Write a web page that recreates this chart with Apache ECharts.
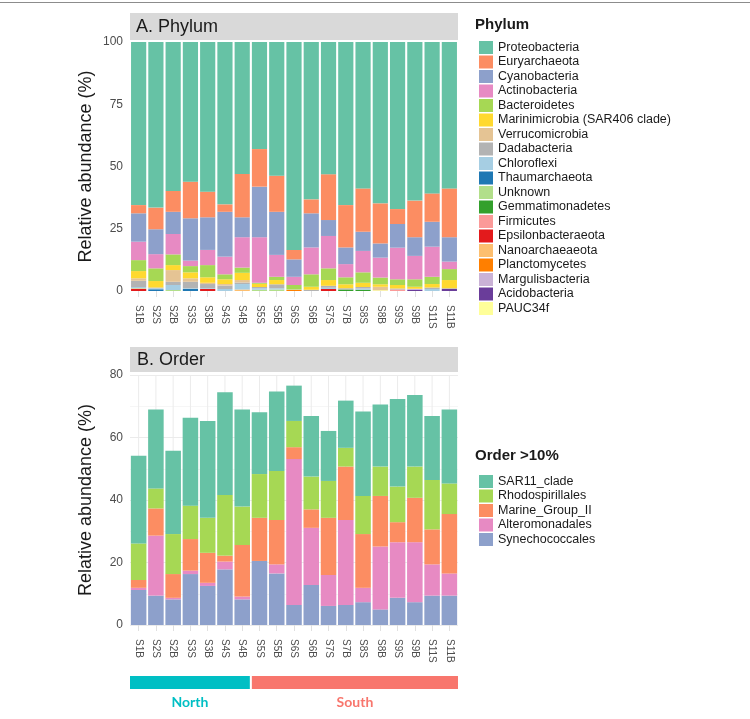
<!DOCTYPE html>
<html><head><meta charset="utf-8">
<script src="https://cdn.jsdelivr.net/npm/echarts@6/dist/echarts.min.js"></script>
<style>html,body{margin:0;padding:0;background:#fff}#c{width:750px;height:719px}</style>
</head><body><div id="c"></div>
<script>
// ---------- categories ----------
const samples = ['S1B','S2S','S2B','S3S','S3B','S4S','S4B','S5S','S5B','S6S','S6B','S7S','S7B','S8S','S8B','S9S','S9B','S11S','S11B'];
const sampleRegion = ['North','North','North','North','North','North','North','South','South','South','South','South','South','South','South','South','South','South','South'];
const regionNames = ['North','South'];
const regionColors = ['#00BFC4','#F8766D'];

// ---------- Panel A: Phylum (% relative abundance) ----------
const phylumNames = ['Proteobacteria','Euryarchaeota','Cyanobacteria','Actinobacteria','Bacteroidetes','Marinimicrobia (SAR406 clade)','Verrucomicrobia','Dadabacteria','Chloroflexi','Thaumarchaeota','Unknown','Gemmatimonadetes','Firmicutes','Epsilonbacteraeota','Nanoarchaeaeota','Planctomycetes','Margulisbacteria','Acidobacteria','PAUC34f'];
const phylumColors = ['#66C2A5','#FC8D62','#8DA0CB','#E78AC3','#A6D854','#FFD92F','#E5C494','#B3B3B3','#A6CEE3','#1F78B4','#B2DF8A','#33A02C','#FB9A99','#E31A1C','#FDBF6F','#FF7F00','#CAB2D6','#6A3D9A','#FFFF99'];
const proteobacteria     = [65.5,66.5,59.8,56.1,60.1,65.2,53.0,43.0,53.7,83.5,63.2,53.1,65.5,58.8,64.8,67.1,63.7,60.8,58.8];
const euryarchaeota      = [3.3,8.7,8.4,14.7,10.3,3.0,17.4,15.1,14.5,3.8,5.6,18.4,17.0,17.4,16.1,6.0,14.7,11.4,19.6];
const cyanobacteria      = [11.4,10.0,8.9,17.0,13.1,18.0,8.0,20.3,17.3,7.0,13.7,6.4,6.7,7.7,5.7,9.5,7.5,10.0,9.8];
const actinobacteria     = [7.4,5.7,8.2,2.2,6.1,7.1,12.2,18.3,8.8,3.3,10.8,13.0,5.3,8.6,8.0,12.7,9.4,12.1,3.0];
const bacteroidetes      = [4.4,5.1,4.3,2.5,4.9,2.0,2.1,0.4,1.3,1.7,5.0,4.7,2.8,4.2,2.7,2.3,3.0,2.9,4.4];
const marinimicrobia     = [2.9,2.6,2.0,2.4,2.2,1.9,2.9,1.3,1.7,0,1.2,2.3,1.6,1.7,1.0,1.4,0.8,1.4,3.3];
const verrucomicrobia    = [1.0,0,4.7,1.4,0.5,0.6,1.0,0,0,0,0,0,0,0,1.4,0,0,0,0];
const dadabacteria       = [2.5,0.3,1.3,2.6,1.7,1.4,0.6,0.5,1.6,0,0.5,0.8,0.5,0.6,0,0.4,0,0.6,0.3];
const chloroflexi        = [0.4,0.4,2.0,0.3,0.3,0.8,2.2,0.6,0.5,0,0,0.5,0,0.5,0,0,0,0.8,0];
const thaumarchaeota     = [0,0.7,0,0.8,0,0,0,0,0,0,0,0,0,0,0,0,0,0,0];
const unknown            = [0.2,0,0.4,0,0,0,0,0.5,0.6,0.2,0,0,0,0,0,0,0,0,0];
const gemmatimonadetes   = [0,0,0,0,0,0,0,0,0,0,0,0,0.6,0.5,0,0,0,0,0];
const firmicutes         = [0.2,0,0,0,0,0,0,0,0,0,0,0,0,0,0,0.6,0,0,0];
const epsilonbacteraeota = [0.8,0,0,0,0.8,0,0,0,0,0,0,0.8,0,0,0,0,0,0,0];
const nanoarchaeaeota    = [0,0,0,0,0,0,0.6,0,0,0,0,0,0,0,0,0,0,0,0];
const planctomycetes     = [0,0,0,0,0,0,0,0,0,0.5,0,0,0,0,0,0,0,0,0];
const margulisbacteria   = [0,0,0,0,0,0,0,0,0,0,0,0,0,0,0,0,0.5,0,0];
const acidobacteria      = [0,0,0,0,0,0,0,0,0,0,0,0,0,0,0,0,0.4,0,0.8];
const pauc34f            = [0,0,0,0,0,0,0,0,0,0,0,0,0,0,0.3,0,0,0,0];
const phylumValues = [proteobacteria,euryarchaeota,cyanobacteria,actinobacteria,bacteroidetes,marinimicrobia,verrucomicrobia,dadabacteria,chloroflexi,thaumarchaeota,unknown,gemmatimonadetes,firmicutes,epsilonbacteraeota,nanoarchaeaeota,planctomycetes,margulisbacteria,acidobacteria,pauc34f];

// ---------- Panel B: Order >10% ----------
const orderNames = ['SAR11_clade','Rhodospirillales','Marine_Group_II','Alteromonadales','Synechococcales'];
const orderColors = ['#66C2A5','#A6D854','#FC8D62','#E78AC3','#8DA0CB'];
const sar11Clade       = [28.1,25.3,26.7,28.1,31.0,32.9,31.1,19.8,25.4,11.3,19.4,16.0,15.1,27.0,19.9,28.0,22.9,20.5,23.7];
const rhodospirillales = [11.7,6.4,12.8,10.7,11.2,19.4,12.3,14.0,15.7,8.4,10.5,11.8,6.0,12.2,9.4,11.4,10.0,15.8,9.8];
const marineGroupII    = [2.5,8.7,7.6,10.1,9.6,1.9,16.5,13.8,14.2,3.8,5.9,18.3,17.1,17.2,16.2,6.4,14.2,11.2,19.0];
const alteromonadales  = [0.7,19.2,0.5,1.1,1.0,2.5,0.9,0,2.9,46.7,18.3,9.9,27.2,4.6,20.1,17.8,19.2,10.0,7.1];
const synechococcales  = [11.2,9.4,8.2,16.3,12.5,17.8,8.2,20.5,16.5,6.4,12.8,6.1,6.4,7.3,5.0,8.7,7.3,9.4,9.4];
const orderValues = [sar11Clade,rhodospirillales,marineGroupII,alteromonadales,synechococcales];

// ---------- axes ticks ----------
const yTicksA = {min:0, max:100, interval:25};
const yTicksB = {min:0, max:80, interval:20};

const FONT = 'Liberation Sans, Arial, sans-serif';
const chart = echarts.init(document.getElementById('c'), null, {renderer:'canvas'});

const gridL = 130, gridR = 292;
const series = [];
// ggplot stacks first level on top -> add in reverse
for (let i = phylumNames.length - 1; i >= 0; i--) {
  series.push({type:'bar', name:phylumNames[i], stack:'A', xAxisIndex:0, yAxisIndex:0,
    data:phylumValues[i], barCategoryGap:'12%', itemStyle:{color:phylumColors[i]}, z:2});
}
for (let i = orderNames.length - 1; i >= 0; i--) {
  series.push({type:'bar', name:orderNames[i], stack:'B', xAxisIndex:1, yAxisIndex:1,
    data:orderValues[i], barCategoryGap:'10%', itemStyle:{color:orderColors[i]}, z:2});
}
// vertical major grid lines at category centres (panel B)
series.push({type:'custom', xAxisIndex:1, yAxisIndex:1, z:1, silent:true,
  data: samples.map((s,i)=>[i]),
  renderItem:(p, api)=>{
    const a = api.coord([api.value(0), yTicksB.max]);
    const b = api.coord([api.value(0), yTicksB.min]);
    return {type:'line', shape:{x1:a[0],y1:a[1],x2:b[0],y2:b[1]}, style:{stroke:'#EBEBEB', lineWidth:1}};
  }});

function xAxis(gi, margin){
  return {type:'category', gridIndex:gi, data:samples, boundaryGap:true,
    axisLine:{show:false}, axisTick:{show:true, alignWithLabel:true, length:6, lineStyle:{color:'#E0E0E0'}},
    axisLabel:{rotate:-90, margin:margin, fontSize:10, color:'#4D4D4D', fontFamily:FONT, interval:0},
    splitLine:{show:false}};
}
function yAxis(gi, t, minor){
  return {type:'value', gridIndex:gi, min:t.min, max:t.max, interval:t.interval,
    name:'Relative abundance (%)', nameLocation:'middle', nameGap:35,
    nameTextStyle:{fontSize:18, color:'#1A1A1A', fontFamily:FONT},
    axisLine:{show:false}, axisTick:{show:false},
    axisLabel:{fontSize:12, color:'#4D4D4D', margin:7, fontFamily:FONT},
    splitLine:{show:minor, lineStyle:{color:'#EBEBEB', width:1}},
    minorTick:{show:false, splitNumber:2},
    minorSplitLine:{show:minor, lineStyle:{color:'#F0F0F0', width:0.6}}};
}

const staticGraphics = [
  {type:'line', shape:{x1:0,y1:2.5,x2:750,y2:2.5}, style:{stroke:'#8C8C8C', lineWidth:1}},
  {type:'rect', shape:{x:gridL, y:13, width:750-gridL-gridR, height:27}, style:{fill:'#D9D9D9'}},
  {type:'text', x:136, y:27, style:{text:'A. Phylum', fontSize:18, fill:'#1A1A1A', fontFamily:FONT, verticalAlign:'middle'}},
  {type:'rect', shape:{x:gridL, y:347, width:750-gridL-gridR, height:25}, style:{fill:'#D9D9D9'}},
  {type:'text', x:137, y:360, style:{text:'B. Order', fontSize:18, fill:'#1A1A1A', fontFamily:FONT, verticalAlign:'middle'}},
  {type:'text', x:475, y:25, style:{text:'Phylum', fontSize:15, fontWeight:'bold', fill:'#1A1A1A', fontFamily:FONT, verticalAlign:'middle'}},
  {type:'text', x:475, y:456, style:{text:'Order >10%', fontSize:15, fontWeight:'bold', fill:'#1A1A1A', fontFamily:FONT, verticalAlign:'middle'}}
];

const legendCommon = {orient:'vertical', left:474, itemWidth:14, itemHeight:13, itemGap:1.5, icon:'rect',
  selectedMode:false, textStyle:{fontSize:12.5, color:'#1A1A1A', fontFamily:FONT, lineHeight:13}};

chart.setOption({
  animation:false,
  backgroundColor:'#FFFFFF',
  textStyle:{fontFamily:FONT},
  grid:[
    {left:gridL, right:gridR, top:42, height:249},
    {left:gridL, right:gridR, top:375, height:250}
  ],
  xAxis:[xAxis(0,14), xAxis(1,14)],
  yAxis:[yAxis(0,yTicksA,false), yAxis(1,yTicksB,true)],
  legend:[
    Object.assign({top:36, data:phylumNames}, legendCommon),
    Object.assign({top:470, data:orderNames}, legendCommon)
  ],
  series:series,
  graphic:staticGraphics
});

// region bar (North / South) positioned with the axis scale of panel B
const c0 = chart.convertToPixel({xAxisIndex:1}, samples[0]);
const c1 = chart.convertToPixel({xAxisIndex:1}, samples[1]);
const slot = c1 - c0;
const regionGraphics = [];
regionNames.forEach((r, ri)=>{
  const idx = sampleRegion.map((s,i)=>s===r?i:-1).filter(i=>i>=0);
  const xs = chart.convertToPixel({xAxisIndex:1}, samples[idx[0]]) - slot/2;
  const xe = chart.convertToPixel({xAxisIndex:1}, samples[idx[idx.length-1]]) + slot/2;
  const a = ri===0 ? xs : xs+1, b = ri===regionNames.length-1 ? xe : xe-1;
  regionGraphics.push({type:'rect', shape:{x:a, y:676, width:b-a, height:13}, style:{fill:regionColors[ri]}});
  regionGraphics.push({type:'text', x:(a+b)/2, y:702, style:{text:r, fontSize:14, fontWeight:'bold', fill:regionColors[ri], fontFamily:'Lato, Open Sans, sans-serif', align:'center', verticalAlign:'middle'}});
});
chart.setOption({graphic: staticGraphics.concat(regionGraphics)});
</script></body></html>
